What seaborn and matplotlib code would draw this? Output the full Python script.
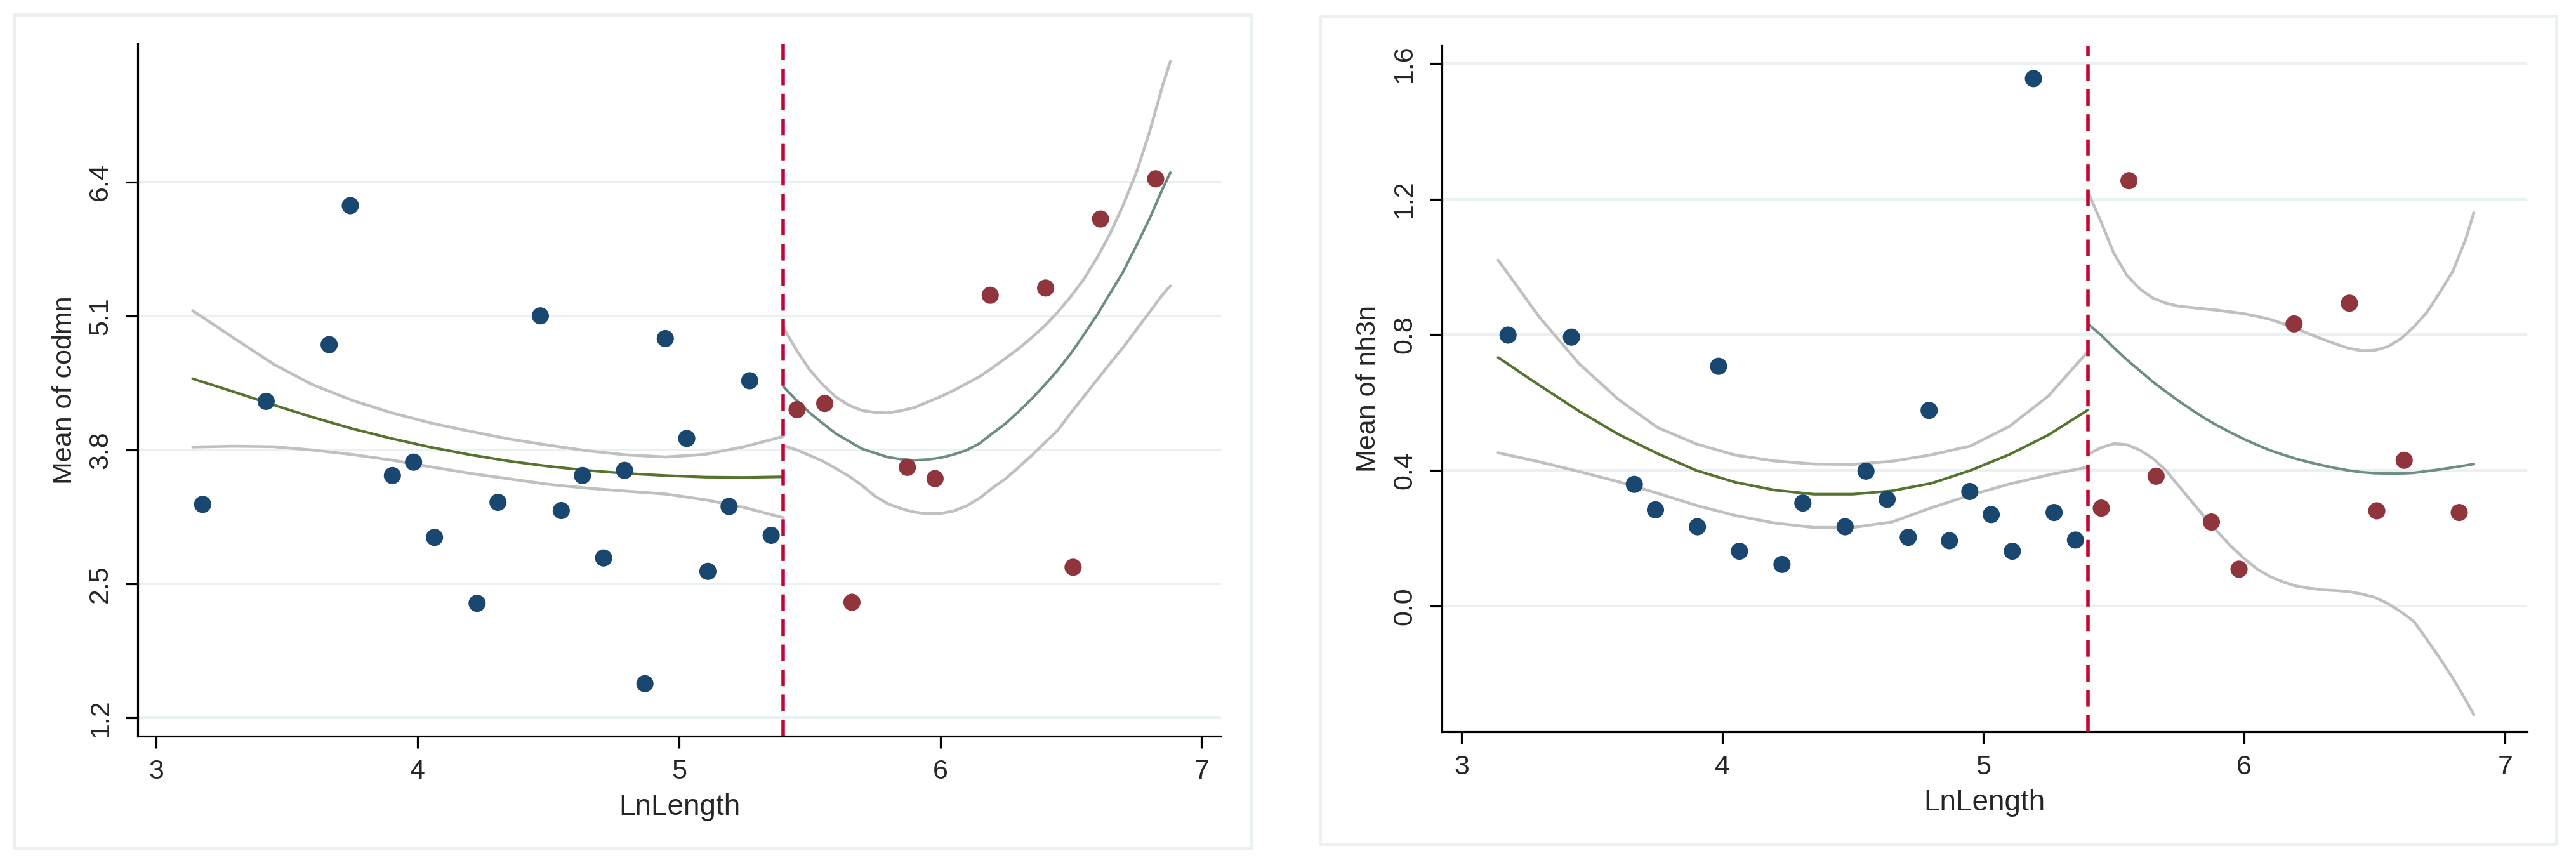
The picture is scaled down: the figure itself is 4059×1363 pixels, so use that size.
import pandas as pd
import seaborn as sns
import matplotlib.pyplot as plt
from matplotlib.patches import Rectangle

# bin means, LnLength below / above the cutoff
ln_below = [3.178, 3.421, 3.662, 3.743, 3.904, 3.985, 4.065, 4.228, 4.308, 4.470, 4.550,
            4.631, 4.712, 4.792, 4.870, 4.948, 5.030, 5.111, 5.192, 5.271, 5.353]
ln_above = [5.452, 5.558, 5.662, 5.874, 5.980, 6.191, 6.403, 6.508, 6.613, 6.824]

codmn_below = [3.27, 4.27, 4.82, 6.17, 3.55, 3.68, 2.95, 2.31, 3.29, 5.10, 3.21,
               3.55, 2.75, 3.60, 1.53, 4.88, 3.91, 2.62, 3.25, 4.47, 2.97]
codmn_above = [4.19, 4.25, 2.32, 3.63, 3.52, 5.30, 5.37, 2.66, 6.04, 6.43]

nh3n_below = [0.799, 0.793, 0.359, 0.284, 0.234, 0.707, 0.162, 0.123, 0.304, 0.234, 0.398,
              0.315, 0.203, 0.577, 0.193, 0.338, 0.270, 0.162, 1.555, 0.276, 0.195]
nh3n_above = [0.289, 1.254, 0.383, 0.248, 0.109, 0.832, 0.893, 0.281, 0.430, 0.276]

cutoff = 5.4

# local fits with 95% CI
grid_below = [3.14, 3.3, 3.45, 3.6, 3.75, 3.9, 4.05, 4.2, 4.35, 4.5, 4.65, 4.8, 4.95, 5.1, 5.25, 5.4]
grid_above = [5.4, 5.45, 5.5, 5.55, 5.6, 5.65, 5.7, 5.75, 5.8, 5.85, 5.9, 5.95, 6.0, 6.05, 6.1, 6.15,
              6.2, 6.25, 6.3, 6.35, 6.4, 6.45, 6.5, 6.55, 6.6, 6.65, 6.7, 6.75, 6.8, 6.85, 6.88]

codmn_fit_below = [4.49, 4.36, 4.235, 4.115, 4.005, 3.91, 3.825, 3.752, 3.69, 3.64, 3.60, 3.57, 3.55, 3.535, 3.532, 3.538]
codmn_hi_below = [5.15, 4.88, 4.63, 4.43, 4.28, 4.16, 4.06, 3.98, 3.905, 3.845, 3.79, 3.75, 3.73, 3.755, 3.83, 3.93]
codmn_lo_below = [3.827, 3.835, 3.83, 3.797, 3.754, 3.70, 3.635, 3.572, 3.518, 3.465, 3.427, 3.398, 3.37, 3.315, 3.24, 3.14]
codmn_fit_above = [4.411, 4.28, 4.16, 4.056, 3.958, 3.884, 3.81, 3.768, 3.728, 3.708, 3.698, 3.705, 3.722, 3.753, 3.795, 3.862,
                   3.96, 4.055, 4.172, 4.295, 4.431, 4.575, 4.737, 4.92, 5.11, 5.32, 5.53, 5.78, 6.04, 6.33, 6.49]
codmn_hi_above = [4.986, 4.767, 4.577, 4.433, 4.313, 4.233, 4.182, 4.163, 4.158, 4.18, 4.209, 4.262, 4.315, 4.374, 4.442, 4.511,
                  4.596, 4.689, 4.782, 4.89, 5.004, 5.138, 5.29, 5.46, 5.665, 5.90, 6.177, 6.49, 6.88, 7.33, 7.57]
codmn_lo_above = [3.84, 3.80, 3.745, 3.69, 3.62, 3.545, 3.455, 3.35, 3.275, 3.23, 3.195, 3.18, 3.182, 3.205, 3.255, 3.33,
                  3.43, 3.52, 3.631, 3.745, 3.87, 3.99, 4.16, 4.32, 4.48, 4.64, 4.795, 4.965, 5.135, 5.305, 5.39]

nh3n_fit_below = [0.733, 0.65, 0.575, 0.507, 0.45, 0.40, 0.365, 0.342, 0.33, 0.33, 0.34, 0.362, 0.40, 0.447, 0.505, 0.578]
nh3n_hi_below = [1.02, 0.85, 0.715, 0.61, 0.527, 0.478, 0.445, 0.428, 0.419, 0.418, 0.427, 0.446, 0.472, 0.53, 0.62, 0.75]
nh3n_lo_below = [0.452, 0.425, 0.397, 0.367, 0.333, 0.297, 0.267, 0.245, 0.232, 0.232, 0.248, 0.29, 0.327, 0.36, 0.387, 0.41]
nh3n_fit_above = [0.832, 0.80, 0.762, 0.726, 0.694, 0.661, 0.632, 0.604, 0.578, 0.553, 0.531, 0.511, 0.492, 0.475, 0.459, 0.446,
                  0.434, 0.424, 0.415, 0.407, 0.40, 0.395, 0.392, 0.391, 0.391, 0.393, 0.398, 0.403, 0.409, 0.415, 0.419]
nh3n_hi_above = [1.222, 1.135, 1.04, 0.975, 0.935, 0.908, 0.893, 0.884, 0.88, 0.876, 0.872, 0.867, 0.862, 0.854, 0.845, 0.832,
                 0.818, 0.802, 0.787, 0.773, 0.76, 0.753, 0.754, 0.765, 0.788, 0.823, 0.866, 0.925, 0.988, 1.084, 1.16]
nh3n_lo_above = [0.447, 0.467, 0.479, 0.476, 0.46, 0.435, 0.40, 0.353, 0.307, 0.261, 0.217, 0.176, 0.14, 0.109, 0.087, 0.071,
                 0.059, 0.053, 0.048, 0.046, 0.043, 0.036, 0.026, 0.008, -0.016, -0.045, -0.098, -0.154, -0.213, -0.278, -0.32]

codmn_ticks = [1.2, 2.5, 3.8, 5.1, 6.4]
nh3n_ticks = [0.0, 0.4, 0.8, 1.2, 1.6]
x_ticks = [3, 4, 5, 6, 7]

NAVY = "#1a476f"
MAROON = "#90353b"
GREEN = "#55752f"
TEAL = "#6e8e84"
CI_GRAY = "#c0c0c0"
CRANBERRY = "#c10534"
LIGHT = "#e9f1f2"

sns.set_style("white")
plt.rcParams['font.family'] = ['Liberation Sans', 'DejaVu Sans']
plt.rcParams['font.size'] = 31

fig = plt.figure(figsize=(40.59, 13.63), dpi=100)
ax1 = fig.add_axes([0.0535, 0.1489, 0.4206, 0.8004])
ax2 = fig.add_axes([0.5597, 0.1541, 0.4213, 0.7931])

# panel frames
fig.patches.append(Rectangle((0.0054, 0.0198), 0.4804, 0.9633, transform=fig.transFigure,
                             fill=False, edgecolor=LIGHT, lw=3.6))
fig.patches.append(Rectangle((0.5124, 0.0242), 0.4799, 0.9567, transform=fig.transFigure,
                             fill=False, edgecolor=LIGHT, lw=3.6))


def panel(ax, y_below, y_above, fits, ticks, ylim, xlim, ylabel):
    fit_b, hi_b, lo_b, fit_a, hi_a, lo_a = fits
    for vals in (hi_b, lo_b):
        sns.lineplot(x=grid_below, y=vals, ax=ax, color=CI_GRAY, lw=3.3, estimator=None, sort=False)
    for vals in (hi_a, lo_a):
        sns.lineplot(x=grid_above, y=vals, ax=ax, color=CI_GRAY, lw=3.3, estimator=None, sort=False)
    sns.lineplot(x=grid_below, y=fit_b, ax=ax, color=GREEN, lw=3.0, estimator=None, sort=False)
    sns.lineplot(x=grid_above, y=fit_a, ax=ax, color=TEAL, lw=3.0, estimator=None, sort=False)

    sns.scatterplot(x=ln_below, y=y_below, ax=ax, color=NAVY, s=380, edgecolor="none", zorder=3)
    sns.scatterplot(x=ln_above, y=y_above, ax=ax, color=MAROON, s=380, edgecolor="none", zorder=3)

    ax.axvline(cutoff, color=CRANBERRY, lw=4.0, dashes=(4.7, 2.4), zorder=4)

    ax.set_xlim(*xlim)
    ax.set_ylim(*ylim)
    ax.set_xticks(x_ticks)
    ax.set_xticklabels([str(t) for t in x_ticks])
    ax.set_yticks(ticks)
    ax.set_yticklabels([f"{t:.1f}" for t in ticks], rotation=90, va="center")
    ax.yaxis.grid(True, color=LIGHT, lw=2.9)
    ax.xaxis.grid(False)
    ax.set_axisbelow(True)
    sns.despine(ax=ax)
    for s in ("left", "bottom"):
        ax.spines[s].set_color("black")
        ax.spines[s].set_linewidth(2.3)
    ax.tick_params(axis="both", direction="out", length=14, width=2.3, color="black",
                   labelsize=31, left=True, bottom=True)
    ax.tick_params(axis="x", pad=12)
    ax.tick_params(axis="y", pad=14)
    ax.set_xlabel("LnLength", fontsize=33, labelpad=10)
    ax.set_ylabel(ylabel, fontsize=31, labelpad=12)


panel(ax1, codmn_below, codmn_above,
      (codmn_fit_below, codmn_hi_below, codmn_lo_below, codmn_fit_above, codmn_hi_above, codmn_lo_above),
      codmn_ticks, (1.02, 7.74), (2.93, 7.075), "Mean of codmn")
panel(ax2, nh3n_below, nh3n_above,
      (nh3n_fit_below, nh3n_hi_below, nh3n_lo_below, nh3n_fit_above, nh3n_hi_above, nh3n_lo_above),
      nh3n_ticks, (-0.37, 1.652), (2.924, 7.084), "Mean of nh3n")

fig.savefig("out.png", dpi=100, facecolor="white")
